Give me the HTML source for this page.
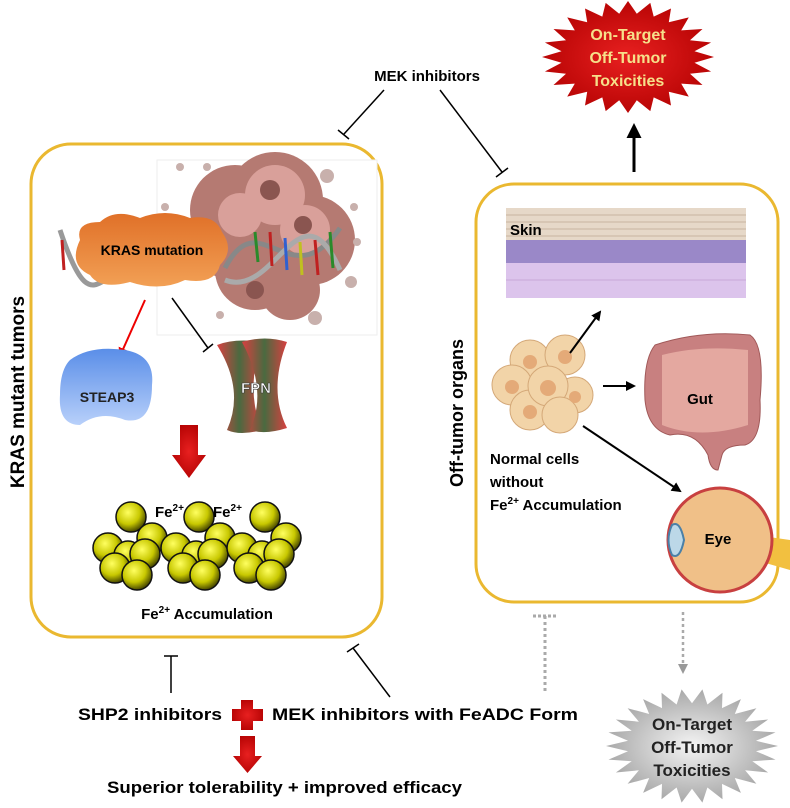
<!DOCTYPE html>
<html><head><meta charset="utf-8"><style>
html,body{margin:0;padding:0;background:#fff}
svg{display:block}
text{font-family:"Liberation Sans",Arial,sans-serif;font-weight:bold}
</style></head><body>
<svg width="790" height="808" viewBox="0 0 790 808" xmlns="http://www.w3.org/2000/svg">
<defs>
<radialGradient id="sph" cx="0.4" cy="0.35" r="0.65"><stop offset="0" stop-color="#ffff60"/><stop offset="0.6" stop-color="#c8c800"/><stop offset="1" stop-color="#4a4a00"/></radialGradient>
<linearGradient id="org" x1="0" y1="0" x2="0" y2="1"><stop offset="0" stop-color="#e07028"/><stop offset="1" stop-color="#f2a055"/></linearGradient>
<linearGradient id="blu" x1="0" y1="0" x2="0" y2="1"><stop offset="0" stop-color="#5a8ee8"/><stop offset="1" stop-color="#b8d0fa"/></linearGradient>
<linearGradient id="fpn" x1="0" y1="0" x2="1" y2="0"><stop offset="0" stop-color="#d84040"/><stop offset="0.5" stop-color="#4a6a40"/><stop offset="1" stop-color="#d84040"/></linearGradient>
<radialGradient id="red" cx="0.5" cy="0.5" r="0.6"><stop offset="0" stop-color="#e82020"/><stop offset="1" stop-color="#b00000"/></radialGradient>
<radialGradient id="gray" cx="0.5" cy="0.5" r="0.6"><stop offset="0" stop-color="#f4f4f4"/><stop offset="1" stop-color="#9a9a9a"/></radialGradient>
<marker id="ab" viewBox="0 0 10 10" refX="8" refY="5" markerWidth="5" markerHeight="5" orient="auto"><path d="M0 0L10 5L0 10z" fill="#000"/></marker>
<marker id="ar" viewBox="0 0 10 10" refX="8" refY="5" markerWidth="5" markerHeight="5" orient="auto"><path d="M0 0L10 5L0 10z" fill="#e00"/></marker>
<marker id="ag" viewBox="0 0 10 10" refX="8" refY="5" markerWidth="4" markerHeight="4" orient="auto"><path d="M0 0L10 5L0 10z" fill="#999"/></marker>
</defs>

<!-- boxes -->
<rect x="31" y="144" width="351" height="493" rx="40" fill="none" stroke="#eab830" stroke-width="3"/>
<rect x="476" y="184" width="302" height="418" rx="38" fill="none" stroke="#eab830" stroke-width="3"/>

<text transform="translate(24,392) rotate(-90)" text-anchor="middle" font-size="19">KRAS mutant tumors</text>
<text transform="translate(463,413) rotate(-90)" text-anchor="middle" font-size="18">Off-tumor organs</text>

<!-- tumor cells -->
<rect x="157" y="160" width="220" height="175" fill="#fff" stroke="#eee"/>
<g fill="#b57a72">
<circle cx="235" cy="210" r="45"/><circle cx="275" cy="200" r="48"/><circle cx="310" cy="240" r="45"/><circle cx="255" cy="270" r="40"/><circle cx="290" cy="290" r="30"/><circle cx="230" cy="250" r="30"/>
</g>
<g fill="#d9a09a"><circle cx="275" cy="195" r="30"/><circle cx="305" cy="230" r="25"/><circle cx="240" cy="215" r="22"/></g>
<g fill="#8a5550"><circle cx="270" cy="190" r="10"/><circle cx="303" cy="225" r="9"/><circle cx="255" cy="290" r="9"/></g>
<g fill="#c8b0ac"><circle cx="180" cy="167" r="4"/><circle cx="207" cy="167" r="4"/><circle cx="327" cy="176" r="7"/><circle cx="165" cy="207" r="4"/><circle cx="354" cy="207" r="4"/><circle cx="357" cy="242" r="4"/><circle cx="351" cy="282" r="6"/><circle cx="220" cy="315" r="4"/><circle cx="315" cy="318" r="7"/></g>
<!-- DNA -->
<path d="M225 268 C260 200, 290 300, 340 228" stroke="#888" stroke-width="5" fill="none"/>
<path d="M225 280 C275 300, 300 180, 340 270" stroke="#aaa" stroke-width="5" fill="none"/>
<path d="M60 230 C80 290,90 290,105 280" stroke="#999" stroke-width="5" fill="none"/>
<g stroke-width="3"><line x1="255" y1="232" x2="258" y2="262" stroke="#2a8a2a"/><line x1="270" y1="232" x2="272" y2="266" stroke="#c02020"/><line x1="285" y1="238" x2="287" y2="270" stroke="#3060d0"/><line x1="300" y1="242" x2="302" y2="275" stroke="#c0c020"/><line x1="315" y1="240" x2="318" y2="275" stroke="#c02020"/><line x1="330" y1="232" x2="333" y2="268" stroke="#2a8a2a"/><line x1="62" y1="240" x2="64" y2="270" stroke="#c02020"/></g>
<!-- KRAS cloud -->
<path d="M80 240 Q75 222 100 222 Q115 208 140 218 Q165 208 190 218 Q215 214 222 232 Q235 250 220 265 Q215 285 185 280 Q160 292 130 282 Q100 290 90 275 Q68 265 80 240z" fill="url(#org)"/>
<text x="152" y="255" text-anchor="middle" font-size="14">KRAS mutation</text>
<!-- arrows -->
<line x1="145" y1="300" x2="120" y2="356" stroke="#e00" stroke-width="2" marker-end="url(#ar)"/>
<line x1="172" y1="298" x2="208" y2="348" stroke="#000" stroke-width="1.5"/>
<line x1="203" y1="352" x2="213" y2="344" stroke="#000" stroke-width="1.5"/>
<!-- STEAP3 -->
<path d="M70 360 Q90 345 125 350 Q155 355 152 385 Q152 425 125 420 Q100 410 80 425 Q58 425 60 395 Q60 370 70 360z" fill="url(#blu)"/>
<text x="107" y="402" text-anchor="middle" font-size="14" fill="#222">STEAP3</text>
<!-- FPN -->
<path d="M217 345 Q235 338 262 342 Q245 390 262 430 Q240 436 227 430 Q245 390 217 345z" fill="url(#fpn)"/>
<path d="M242 342 Q265 335 287 342 Q268 390 287 428 Q265 435 250 430 Q268 390 242 342z" fill="url(#fpn)"/>
<text x="256" y="393" text-anchor="middle" font-size="15" fill="#fff" stroke="#333" stroke-width="0.6">FPN</text>
<!-- red down arrow -->
<path d="M180 425 H198 V455 H206 L189 478 L172 455 H180z" fill="url(#red)"/>
<!-- spheres -->
<g stroke="#111" stroke-width="1.5" fill="url(#sph)">
<g id="cl">
<circle cx="108" cy="548" r="15"/><circle cx="131" cy="517" r="15"/><circle cx="152" cy="538" r="15"/><circle cx="128" cy="555" r="14"/><circle cx="115" cy="568" r="15"/><circle cx="145" cy="554" r="15"/><circle cx="137" cy="575" r="15"/>
</g>
<use href="#cl" x="68"/><use href="#cl" x="134"/>
</g>
<text x="155" y="517" font-size="15">Fe<tspan font-size="10" dy="-6">2+</tspan></text>
<text x="213" y="517" font-size="15">Fe<tspan font-size="10" dy="-6">2+</tspan></text>
<text x="207" y="619" text-anchor="middle" font-size="15">Fe<tspan font-size="10" dy="-6">2+</tspan><tspan dy="6"> Accumulation</tspan></text>

<!-- top -->
<text x="427" y="81" text-anchor="middle" font-size="15">MEK inhibitors</text>
<line x1="384" y1="90" x2="344" y2="134" stroke="#000" stroke-width="1.5"/><line x1="338" y1="130" x2="349" y2="139" stroke="#000" stroke-width="1.5"/>
<line x1="440" y1="90" x2="502" y2="172" stroke="#000" stroke-width="1.5"/><line x1="496" y1="177" x2="508" y2="168" stroke="#000" stroke-width="1.5"/>
<polygon id="star" fill="url(#red)" points=""/>
<line x1="634" y1="172" x2="634" y2="126" stroke="#000" stroke-width="3" marker-end="url(#ab)"/>

<!-- right organs -->
<rect x="506" y="200" width="240" height="98" fill="#fff"/>
<rect x="506" y="208" width="240" height="32" fill="#e6d8c8"/>
<g stroke="#c8b4a0" stroke-width="1"><line x1="506" y1="215" x2="746" y2="215"/><line x1="506" y1="222" x2="746" y2="222"/><line x1="506" y1="229" x2="746" y2="229"/><line x1="506" y1="236" x2="746" y2="236"/></g>
<rect x="506" y="240" width="240" height="23" fill="#9a88c8"/>
<rect x="506" y="263" width="240" height="35" fill="#dcc4ec"/>
<g stroke="#c8a8d8"><line x1="506" y1="280" x2="746" y2="280"/></g>
<text x="510" y="235" font-size="15">Skin</text>
<g fill="#f2d4a8" stroke="#d4a878" stroke-width="1">
<circle cx="530" cy="360" r="20"/><circle cx="565" cy="355" r="20"/><circle cx="512" cy="385" r="20"/><circle cx="575" cy="395" r="18"/><circle cx="530" cy="410" r="20"/><circle cx="548" cy="386" r="20"/><circle cx="560" cy="415" r="18"/>
</g>
<g fill="#e4aa78"><circle cx="530" cy="362" r="7"/><circle cx="565" cy="357" r="7"/><circle cx="512" cy="387" r="7"/><circle cx="548" cy="388" r="8"/><circle cx="530" cy="412" r="7"/><circle cx="575" cy="397" r="6"/></g>
<line x1="570" y1="353" x2="600" y2="312" stroke="#000" stroke-width="2" marker-end="url(#ab)"/>
<line x1="603" y1="386" x2="634" y2="386" stroke="#000" stroke-width="2" marker-end="url(#ab)"/>
<line x1="583" y1="426" x2="680" y2="491" stroke="#000" stroke-width="2" marker-end="url(#ab)"/>
<!-- gut -->
<path d="M655 345 Q700 330 750 335 Q765 345 760 400 Q762 440 745 445 Q725 445 722 455 L718 470 Q710 470 708 455 Q695 430 670 435 Q648 430 645 400 Q643 360 655 345z" fill="#c88080" stroke="#a05858"/>
<path d="M662 355 Q700 345 748 350 L748 425 Q700 440 662 425z" fill="#e4a8a0"/>
<text x="700" y="404" text-anchor="middle" font-size="15">Gut</text>
<!-- eye -->
<path d="M755 535 L790 540 L790 570 L755 560z" fill="#f2c040"/>
<circle cx="720" cy="540" r="52" fill="#f0c088" stroke="#c84040" stroke-width="3"/>
<path d="M672 525 Q665 540 672 555 Q680 560 684 540 Q680 520 672 525z" fill="#bcd8e8" stroke="#4a80a8" stroke-width="2"/>
<text x="718" y="544" text-anchor="middle" font-size="15">Eye</text>
<text x="490" y="464" font-size="15">Normal cells</text>
<text x="490" y="487" font-size="15">without</text>
<text x="490" y="510" font-size="15">Fe<tspan font-size="10" dy="-6">2+</tspan><tspan dy="6"> Accumulation</tspan></text>

<!-- bottom -->
<line x1="545" y1="616" x2="545" y2="692" stroke="#aaa" stroke-width="3" stroke-dasharray="3,3"/>
<line x1="533" y1="616" x2="557" y2="616" stroke="#aaa" stroke-width="3" stroke-dasharray="3,2"/>
<line x1="683" y1="612" x2="683" y2="672" stroke="#aaa" stroke-width="2.5" stroke-dasharray="3,3" marker-end="url(#ag)"/>
<line x1="171" y1="693" x2="171" y2="656" stroke="#000" stroke-width="1.5"/><line x1="164" y1="656" x2="178" y2="656" stroke="#000" stroke-width="1.5"/>
<line x1="390" y1="697" x2="353" y2="648" stroke="#000" stroke-width="1.5"/><line x1="347" y1="652" x2="359" y2="644" stroke="#000" stroke-width="1.5"/>
<text x="78" y="720" font-size="17" textLength="144" lengthAdjust="spacingAndGlyphs">SHP2 inhibitors</text>
<path d="M241 700 H253 V709 H263 V721 H253 V730 H241 V721 H232 V709 H241z" fill="url(#red)"/>
<text x="272" y="720" font-size="17" textLength="306" lengthAdjust="spacingAndGlyphs">MEK inhibitors with FeADC Form</text>
<path d="M240 736 H255 V756 H262 L247.5 773 L233 756 H240z" fill="url(#red)"/>
<text x="107" y="793" font-size="17" textLength="355" lengthAdjust="spacingAndGlyphs">Superior tolerability + improved efficacy</text>
<polygon id="star2" fill="url(#gray)" points=""/>
<text font-size="17" text-anchor="middle" fill="#222"><tspan x="692" y="730">On-Target</tspan><tspan x="692" y="753">Off-Tumor</tspan><tspan x="692" y="776">Toxicities</tspan></text>
<text font-size="16" text-anchor="middle" fill="#f6e08a"><tspan x="628" y="40">On-Target</tspan><tspan x="628" y="63">Off-Tumor</tspan><tspan x="628" y="86">Toxicities</tspan></text>
</svg>
<script>
function star(id,cx,cy,rx,ry,n,k){var p=[];for(var i=0;i<2*n;i++){var a=Math.PI*i/n,r=i%2?k:1;p.push((cx+rx*r*Math.cos(a)).toFixed(1)+','+(cy+ry*r*Math.sin(a)).toFixed(1));}document.getElementById(id).setAttribute('points',p.join(' '));}
star('star',628,57,86,56,24,0.78);
star('star2',692,746,86,57,26,0.75);
</script>
</body></html>
